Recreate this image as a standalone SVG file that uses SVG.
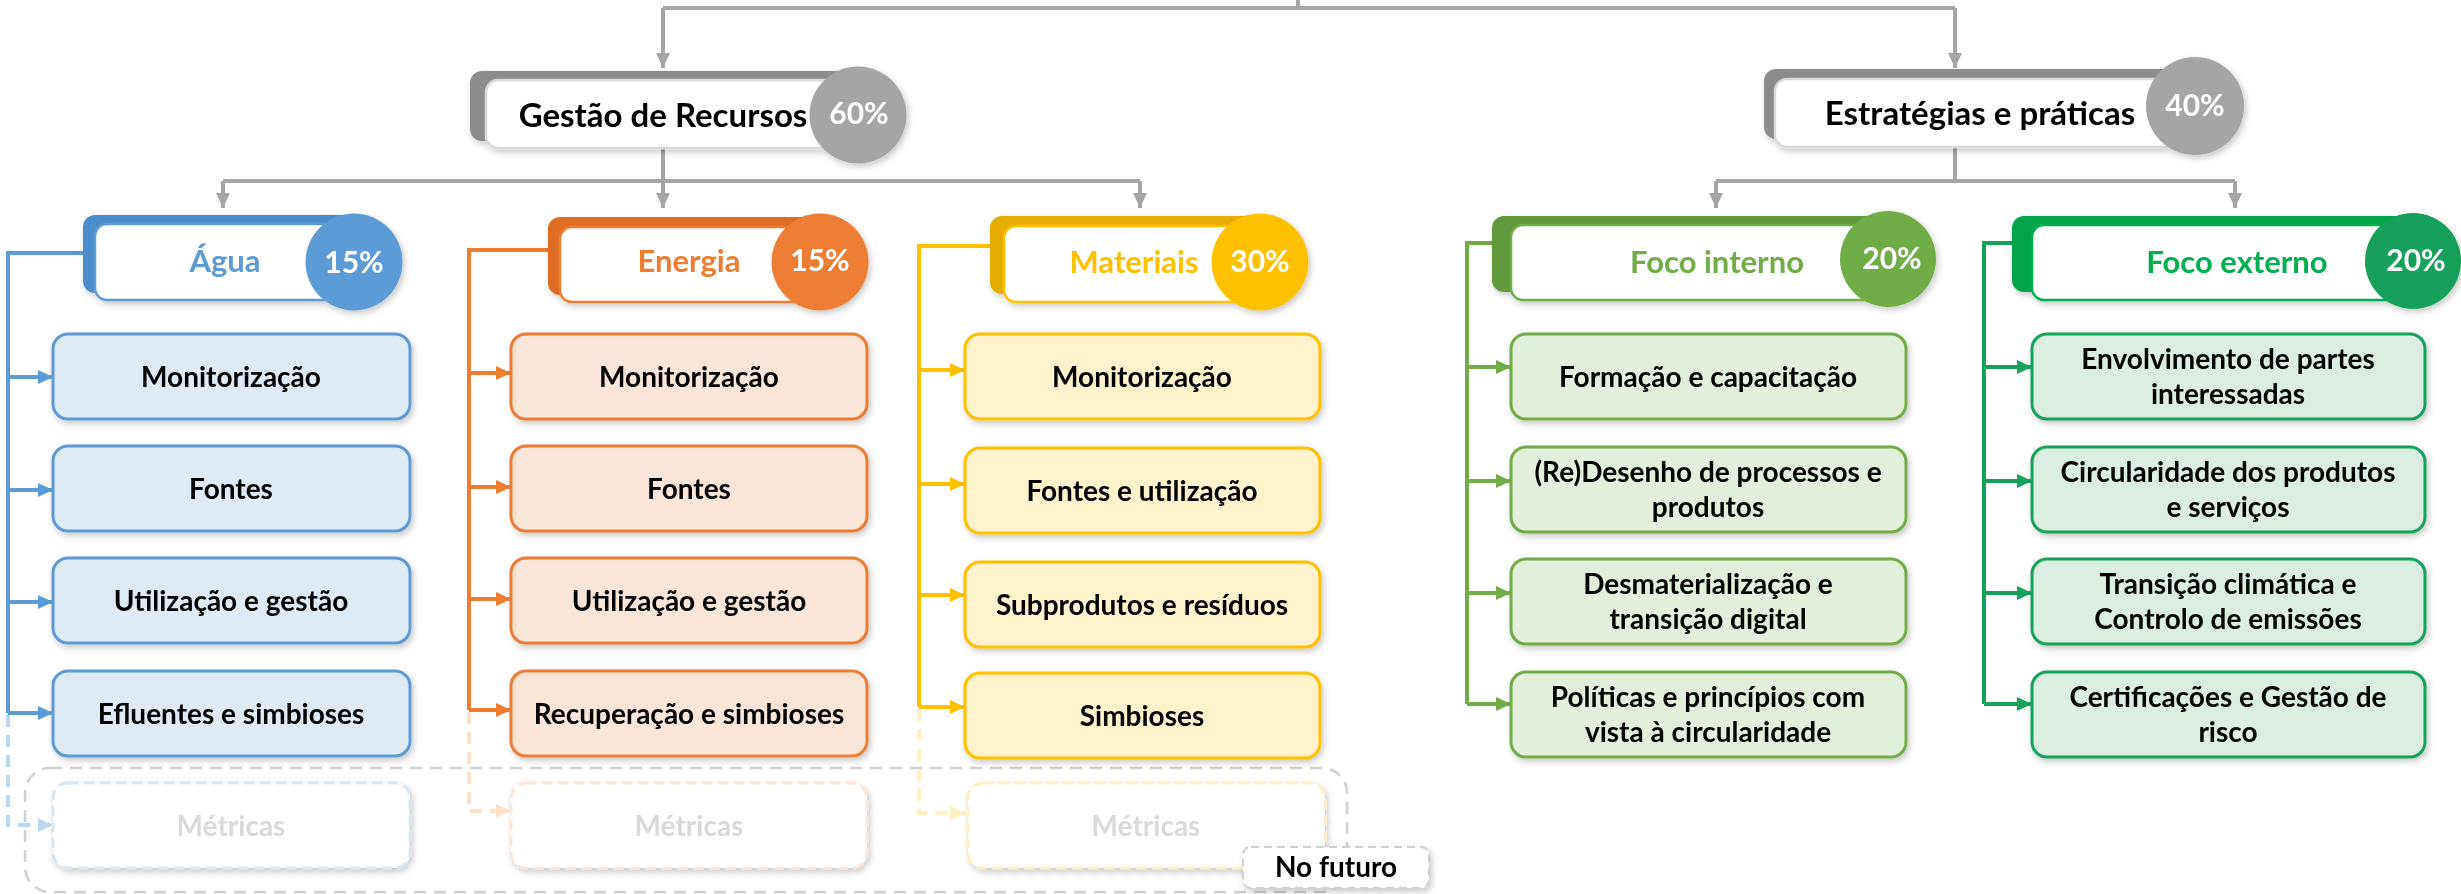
<svg xmlns="http://www.w3.org/2000/svg" width="2461" height="894" viewBox="0 0 2461 894">
<style>
  text { font-family: Lato, "Open Sans", "Liberation Sans", sans-serif; font-weight: bold; text-anchor: middle; }
  .l1 { font-size: 33px; fill: #000; }
  .l2 { font-size: 31px; }
  .pct { font-size: 30px; fill: #fff; }
  .ch { font-size: 28px; fill: #000; }
  .met { font-size: 28px; fill: #d9d9d9; }
  .conn { fill: none; stroke-width: 4; }
  .gray { stroke: #a5a5a5; }
  .box { stroke-width: 3; }
  .hdr { fill: #fff; stroke-width: 2.5; }
</style>
<defs>
  <filter id="sh" x="-10%" y="-20%" width="125%" height="150%">
    <feDropShadow dx="2" dy="3" stdDeviation="3" flood-color="#000" flood-opacity="0.22"/>
  </filter>
  <marker id="aG" viewBox="0 0 15 14" refX="15" refY="7" markerWidth="15" markerHeight="14" markerUnits="userSpaceOnUse" orient="auto"><path d="M0,0 L15,7 L0,14 z" fill="#a5a5a5"/></marker>
  <marker id="aB" viewBox="0 0 15 14" refX="15" refY="7" markerWidth="15" markerHeight="14" markerUnits="userSpaceOnUse" orient="auto"><path d="M0,0 L15,7 L0,14 z" fill="#5b9bd5"/></marker>
  <marker id="aO" viewBox="0 0 15 14" refX="15" refY="7" markerWidth="15" markerHeight="14" markerUnits="userSpaceOnUse" orient="auto"><path d="M0,0 L15,7 L0,14 z" fill="#ed7d31"/></marker>
  <marker id="aY" viewBox="0 0 15 14" refX="15" refY="7" markerWidth="15" markerHeight="14" markerUnits="userSpaceOnUse" orient="auto"><path d="M0,0 L15,7 L0,14 z" fill="#ffc000"/></marker>
  <marker id="aGi" viewBox="0 0 15 14" refX="15" refY="7" markerWidth="15" markerHeight="14" markerUnits="userSpaceOnUse" orient="auto"><path d="M0,0 L15,7 L0,14 z" fill="#70ad47"/></marker>
  <marker id="aGe" viewBox="0 0 15 14" refX="15" refY="7" markerWidth="15" markerHeight="14" markerUnits="userSpaceOnUse" orient="auto"><path d="M0,0 L15,7 L0,14 z" fill="#16a25a"/></marker>
  <marker id="aBl" viewBox="0 0 15 14" refX="15" refY="7" markerWidth="15" markerHeight="14" markerUnits="userSpaceOnUse" orient="auto"><path d="M0,0 L15,7 L0,14 z" fill="#bdd7ee"/></marker>
  <marker id="aOl" viewBox="0 0 15 14" refX="15" refY="7" markerWidth="15" markerHeight="14" markerUnits="userSpaceOnUse" orient="auto"><path d="M0,0 L15,7 L0,14 z" fill="#fbe0cc"/></marker>
  <marker id="aYl" viewBox="0 0 15 14" refX="15" refY="7" markerWidth="15" markerHeight="14" markerUnits="userSpaceOnUse" orient="auto"><path d="M0,0 L15,7 L0,14 z" fill="#fff0c4"/></marker>
</defs>
<rect width="2461" height="894" fill="#fff"/>

<!-- future frame -->
<g id="future-frame">
  <rect x="25" y="768" width="1322" height="124" rx="25" fill="none" stroke="#d0d0d0" stroke-width="2.5" stroke-dasharray="12 8"/>
</g>

<g id="connectors">
  <path class="conn gray" d="M1298,0 V8 M663,8 H1955"/>
  <path class="conn gray" d="M663,8 V68" marker-end="url(#aG)"/>
  <path class="conn gray" d="M1955,8 V68" marker-end="url(#aG)"/>
  <path class="conn gray" d="M663,148 V181 M223,181 H1140"/>
  <path class="conn gray" d="M223,181 V208" marker-end="url(#aG)"/>
  <path class="conn gray" d="M663,181 V208" marker-end="url(#aG)"/>
  <path class="conn gray" d="M1140,181 V208" marker-end="url(#aG)"/>
  <path class="conn gray" d="M1955,147 V181 M1716,181 H2235"/>
  <path class="conn gray" d="M1716,181 V208" marker-end="url(#aG)"/>
  <path class="conn gray" d="M2235,181 V208" marker-end="url(#aG)"/>

  <!-- Agua -->
  <g stroke="#5b9bd5" class="conn">
    <path d="M83,253 H8 V713"/>
    <path d="M8,377 H53" marker-end="url(#aB)"/>
    <path d="M8,490 H53" marker-end="url(#aB)"/>
    <path d="M8,602 H53" marker-end="url(#aB)"/>
    <path d="M8,713 H53" marker-end="url(#aB)"/>
  </g>
  <path class="conn" stroke="#bdd7ee" stroke-dasharray="12 8" d="M8,715 V825 H53" marker-end="url(#aBl)"/>
  <!-- Energia -->
  <g stroke="#ed7d31" class="conn">
    <path d="M548,250 H469 V710"/>
    <path d="M469,373 H511" marker-end="url(#aO)"/>
    <path d="M469,487 H511" marker-end="url(#aO)"/>
    <path d="M469,599 H511" marker-end="url(#aO)"/>
    <path d="M469,710 H511" marker-end="url(#aO)"/>
  </g>
  <path class="conn" stroke="#fbe0cc" stroke-dasharray="12 8" d="M469,712 V811 H511" marker-end="url(#aOl)"/>
  <!-- Materiais -->
  <g stroke="#ffc000" class="conn">
    <path d="M990,246 H919 V707"/>
    <path d="M919,370 H965" marker-end="url(#aY)"/>
    <path d="M919,484 H965" marker-end="url(#aY)"/>
    <path d="M919,595 H965" marker-end="url(#aY)"/>
    <path d="M919,707 H965" marker-end="url(#aY)"/>
  </g>
  <path class="conn" stroke="#fff0c4" stroke-dasharray="12 8" d="M919,709 V813 H965" marker-end="url(#aYl)"/>
  <!-- Foco interno -->
  <g stroke="#70ad47" class="conn">
    <path d="M1492,243 H1467 V704"/>
    <path d="M1467,367 H1511" marker-end="url(#aGi)"/>
    <path d="M1467,481 H1511" marker-end="url(#aGi)"/>
    <path d="M1467,593 H1511" marker-end="url(#aGi)"/>
    <path d="M1467,704 H1511" marker-end="url(#aGi)"/>
  </g>
  <!-- Foco externo -->
  <g stroke="#16a25a" class="conn">
    <path d="M2012,243 H1984 V704"/>
    <path d="M1984,367 H2032" marker-end="url(#aGe)"/>
    <path d="M1984,481 H2032" marker-end="url(#aGe)"/>
    <path d="M1984,593 H2032" marker-end="url(#aGe)"/>
    <path d="M1984,704 H2032" marker-end="url(#aGe)"/>
  </g>
</g>

<!-- Level 1 -->
<g id="gestao" filter="url(#sh)">
  <rect x="470" y="71" width="388" height="70" rx="12" fill="#8c8c8c"/>
  <rect class="hdr" x="486" y="80" width="372" height="68" rx="12" stroke="#d9d9d9"/>
  <circle cx="858" cy="115" r="48.5" fill="#a5a5a5"/>
  <text class="l1" x="663" y="127">Gestão de Recursos</text>
  <text class="pct" x="859" y="124">60%</text>
</g>
<g id="estrategias" filter="url(#sh)">
  <rect x="1764" y="69" width="431" height="70" rx="12" fill="#8c8c8c"/>
  <rect class="hdr" x="1775" y="79" width="420" height="68" rx="12" stroke="#d9d9d9"/>
  <circle cx="2195" cy="106" r="49" fill="#a5a5a5"/>
  <text class="l1" x="1980" y="125">Estratégias e práticas</text>
  <text class="pct" x="2195" y="116">40%</text>
</g>

<!-- Level 2 -->
<g id="agua" filter="url(#sh)">
  <rect x="83" y="215" width="271" height="78" rx="12" fill="#4e8ccb"/>
  <rect class="hdr" x="95" y="224" width="259" height="76" rx="12" stroke="#5b9bd5"/>
  <circle cx="354" cy="262" r="48.5" fill="#5b9bd5"/>
  <text class="l2" x="225" y="272" fill="#5b9bd5">Água</text>
  <text class="pct" x="354" y="273">15%</text>
</g>
<g id="energia" filter="url(#sh)">
  <rect x="548" y="217" width="272" height="78" rx="12" fill="#de6c22"/>
  <rect class="hdr" x="560" y="227" width="260" height="75" rx="12" stroke="#ed7d31"/>
  <circle cx="820" cy="262" r="48.5" fill="#ed7d31"/>
  <text class="l2" x="689" y="272" fill="#ed7d31">Energia</text>
  <text class="pct" x="820" y="271">15%</text>
</g>
<g id="materiais" filter="url(#sh)">
  <rect x="990" y="216" width="270" height="78" rx="12" fill="#e6ad00"/>
  <rect class="hdr" x="1004" y="226" width="256" height="76" rx="12" stroke="#ffc000"/>
  <circle cx="1260" cy="262" r="48.5" fill="#ffc000"/>
  <text class="l2" x="1134" y="273" fill="#ffc000">Materiais</text>
  <text class="pct" x="1260" y="272">30%</text>
</g>
<g id="foco-interno" filter="url(#sh)">
  <rect x="1492" y="216" width="396" height="76" rx="12" fill="#62993c"/>
  <rect class="hdr" x="1511" y="225" width="377" height="75" rx="12" stroke="#70ad47"/>
  <circle cx="1888" cy="259" r="48" fill="#70ad47"/>
  <text class="l2" x="1717" y="273" fill="#70ad47">Foco interno</text>
  <text class="pct" x="1892" y="269">20%</text>
</g>
<g id="foco-externo" filter="url(#sh)">
  <rect x="2012" y="216" width="401" height="76" rx="12" fill="#00a44a"/>
  <rect class="hdr" x="2032" y="225" width="381" height="75" rx="12" stroke="#00b050"/>
  <circle cx="2413" cy="261" r="48" fill="#14a05a"/>
  <text class="l2" x="2237" y="273" fill="#00b050">Foco externo</text>
  <text class="pct" x="2416" y="271">20%</text>
</g>

<!-- Agua children -->
<g filter="url(#sh)">
<g id="agua-1"><rect class="box" x="53" y="334" width="357" height="85" rx="15" fill="#deebf7" stroke="#5b9bd5"/><text class="ch" x="231" y="387">Monitorização</text></g>
<g id="agua-2"><rect class="box" x="53" y="446" width="357" height="85" rx="15" fill="#deebf7" stroke="#5b9bd5"/><text class="ch" x="231" y="499">Fontes</text></g>
<g id="agua-3"><rect class="box" x="53" y="558" width="357" height="85" rx="15" fill="#deebf7" stroke="#5b9bd5"/><text class="ch" x="231" y="611">Utilização e gestão</text></g>
<g id="agua-4"><rect class="box" x="53" y="671" width="357" height="85" rx="15" fill="#deebf7" stroke="#5b9bd5"/><text class="ch" x="231" y="724">Efluentes e simbioses</text></g>
<g id="agua-5"><rect class="box" x="53" y="783" width="357" height="85" rx="15" fill="#fff" stroke="#d6e6f5" stroke-dasharray="10 6"/><text class="met" x="231" y="836">Métricas</text></g>

<g id="energia-1"><rect class="box" x="511" y="334" width="356" height="85" rx="15" fill="#fbe5d6" stroke="#ed7d31"/><text class="ch" x="689" y="387">Monitorização</text></g>
<g id="energia-2"><rect class="box" x="511" y="446" width="356" height="85" rx="15" fill="#fbe5d6" stroke="#ed7d31"/><text class="ch" x="689" y="499">Fontes</text></g>
<g id="energia-3"><rect class="box" x="511" y="558" width="356" height="85" rx="15" fill="#fbe5d6" stroke="#ed7d31"/><text class="ch" x="689" y="611">Utilização e gestão</text></g>
<g id="energia-4"><rect class="box" x="511" y="671" width="356" height="85" rx="15" fill="#fbe5d6" stroke="#ed7d31"/><text class="ch" x="689" y="724">Recuperação e simbioses</text></g>
<g id="energia-5"><rect class="box" x="511" y="783" width="356" height="85" rx="15" fill="#fff" stroke="#fbe5d6" stroke-dasharray="10 6"/><text class="met" x="689" y="836">Métricas</text></g>

<g id="materiais-1"><rect class="box" x="965" y="334" width="355" height="85" rx="15" fill="#fff2cc" stroke="#ffc000"/><text class="ch" x="1142" y="387">Monitorização</text></g>
<g id="materiais-2"><rect class="box" x="965" y="448" width="355" height="85" rx="15" fill="#fff2cc" stroke="#ffc000"/><text class="ch" x="1142" y="501">Fontes e utilização</text></g>
<g id="materiais-3"><rect class="box" x="965" y="562" width="355" height="85" rx="15" fill="#fff2cc" stroke="#ffc000"/><text class="ch" x="1142" y="615">Subprodutos e resíduos</text></g>
<g id="materiais-4"><rect class="box" x="965" y="673" width="355" height="85" rx="15" fill="#fff2cc" stroke="#ffc000"/><text class="ch" x="1142" y="726">Simbioses</text></g>
<g id="materiais-5"><rect class="box" x="968" y="783" width="357" height="85" rx="15" fill="#fff" stroke="#fff0c4" stroke-dasharray="10 6"/><text class="met" x="1146" y="836">Métricas</text></g>

<g id="interno-1"><rect class="box" x="1511" y="334" width="395" height="85" rx="15" fill="#e2efda" stroke="#70ad47"/><text class="ch" x="1708" y="387">Formação e capacitação</text></g>
<g id="interno-2"><rect class="box" x="1511" y="447" width="395" height="85" rx="15" fill="#e2efda" stroke="#70ad47"/><text class="ch" x="1708" y="482">(Re)Desenho de processos e</text><text class="ch" x="1708" y="517">produtos</text></g>
<g id="interno-3"><rect class="box" x="1511" y="559" width="395" height="85" rx="15" fill="#e2efda" stroke="#70ad47"/><text class="ch" x="1708" y="594">Desmaterialização e</text><text class="ch" x="1708" y="629">transição digital</text></g>
<g id="interno-4"><rect class="box" x="1511" y="672" width="395" height="85" rx="15" fill="#e2efda" stroke="#70ad47"/><text class="ch" x="1708" y="707">Políticas e princípios com</text><text class="ch" x="1708" y="742">vista à circularidade</text></g>

<g id="externo-1"><rect class="box" x="2032" y="334" width="393" height="85" rx="15" fill="#daefe2" stroke="#16a25a"/><text class="ch" x="2228" y="369">Envolvimento de partes</text><text class="ch" x="2228" y="404">interessadas</text></g>
<g id="externo-2"><rect class="box" x="2032" y="447" width="393" height="85" rx="15" fill="#daefe2" stroke="#16a25a"/><text class="ch" x="2228" y="482">Circularidade dos produtos</text><text class="ch" x="2228" y="517">e serviços</text></g>
<g id="externo-3"><rect class="box" x="2032" y="559" width="393" height="85" rx="15" fill="#daefe2" stroke="#16a25a"/><text class="ch" x="2228" y="594">Transição climática e</text><text class="ch" x="2228" y="629">Controlo de emissões</text></g>
<g id="externo-4"><rect class="box" x="2032" y="672" width="393" height="85" rx="15" fill="#daefe2" stroke="#16a25a"/><text class="ch" x="2228" y="707">Certificações e Gestão de</text><text class="ch" x="2228" y="742">risco</text></g>
</g>

<g id="no-futuro" filter="url(#sh)">
  <rect x="1243" y="847" width="186" height="41" rx="8" fill="#fff" stroke="#d0d0d0" stroke-width="2" stroke-dasharray="8 5"/>
  <text class="ch" x="1336" y="877">No futuro</text>
</g>
</svg>
